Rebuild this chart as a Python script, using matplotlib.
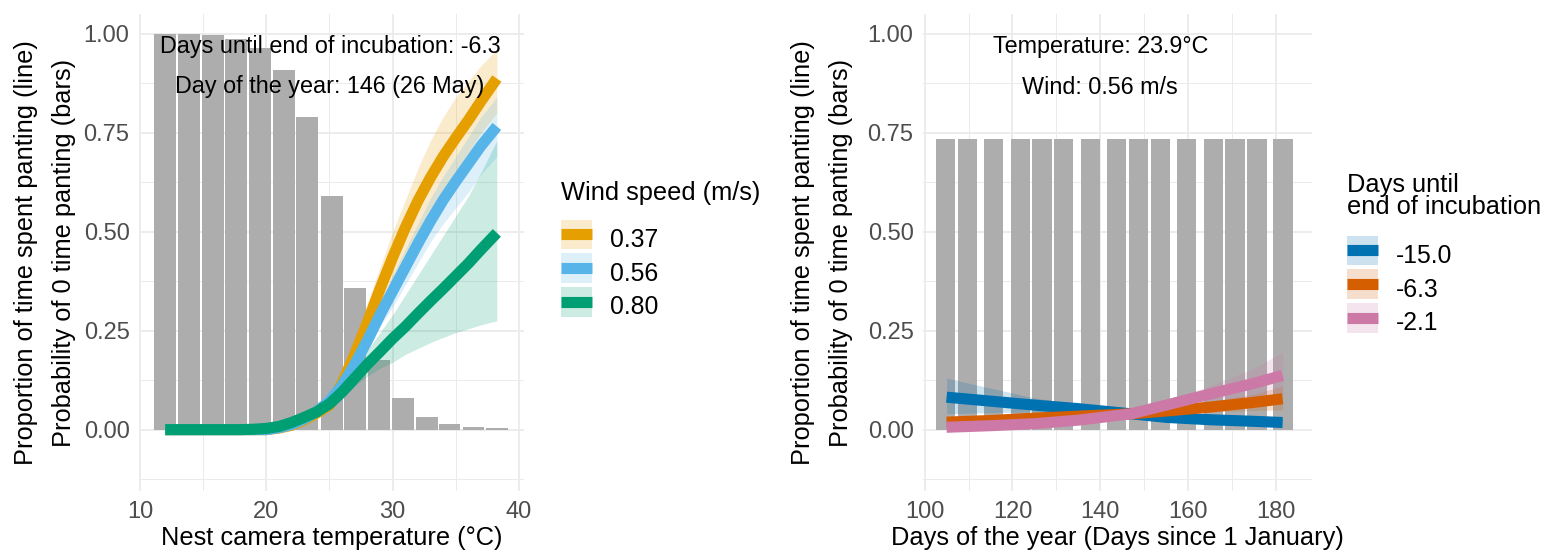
import numpy as np
import matplotlib.pyplot as plt
from matplotlib.patches import Patch, Rectangle
from matplotlib.lines import Line2D
from matplotlib.legend_handler import HandlerPatch

plt.rcParams['font.family'] = ['Liberation Sans', 'DejaVu Sans']

# ---- left panel data: temperature effect ----
temp_bins = [12.0, 13.9, 15.8, 17.6, 19.5, 21.4, 23.2, 25.2, 27.0, 28.9, 30.8, 32.7, 34.5, 36.4, 38.25]
temp_p0 = [1.0, 1.0, 0.997, 0.988, 0.963, 0.908, 0.791, 0.59, 0.358, 0.177, 0.079, 0.032, 0.013, 0.007, 0.004]

temp_x = [12, 14, 16, 18, 19, 20, 21, 22, 23, 24, 25, 26, 27, 28, 29, 30, 31, 32, 33, 34, 35, 36, 37, 38.25]
wind_labels = ['0.37', '0.56', '0.80']
wind_colors = ['#E69F00', '#56B4E9', '#009E73']
wind_fit = [
    [0, 0, 0, 0, 0, 0, 0.004, 0.011, 0.024, 0.042, 0.062, 0.118, 0.19, 0.27, 0.355, 0.435, 0.51, 0.578, 0.637, 0.69, 0.737, 0.782, 0.83, 0.887],
    [0, 0, 0, 0, 0, 0, 0.005, 0.013, 0.027, 0.046, 0.072, 0.112, 0.165, 0.225, 0.29, 0.35, 0.41, 0.47, 0.527, 0.58, 0.627, 0.672, 0.717, 0.766],
    [0, 0, 0, 0, 0.001, 0.003, 0.008, 0.018, 0.031, 0.045, 0.065, 0.095, 0.13, 0.165, 0.197, 0.23, 0.26, 0.293, 0.325, 0.356, 0.388, 0.42, 0.455, 0.497],
]
wind_lo = [
    [0, 0, 0, 0, 0, 0, 0.002, 0.007, 0.017, 0.032, 0.048, 0.095, 0.155, 0.225, 0.3, 0.37, 0.44, 0.5, 0.55, 0.6, 0.65, 0.7, 0.75, 0.8],
    [0, 0, 0, 0, 0, 0, 0.003, 0.009, 0.02, 0.036, 0.058, 0.095, 0.145, 0.2, 0.26, 0.31, 0.365, 0.42, 0.475, 0.52, 0.56, 0.6, 0.645, 0.69],
    [0, 0, 0, 0, 0, 0.001, 0.005, 0.013, 0.024, 0.036, 0.052, 0.08, 0.11, 0.135, 0.155, 0.17, 0.19, 0.205, 0.22, 0.233, 0.245, 0.255, 0.265, 0.275],
]
wind_hi = [
    [0, 0, 0, 0, 0, 0.001, 0.007, 0.016, 0.032, 0.055, 0.085, 0.15, 0.23, 0.32, 0.41, 0.5, 0.58, 0.66, 0.73, 0.79, 0.84, 0.88, 0.92, 0.96],
    [0, 0, 0, 0, 0, 0.001, 0.007, 0.017, 0.034, 0.057, 0.088, 0.13, 0.185, 0.25, 0.32, 0.39, 0.455, 0.52, 0.585, 0.64, 0.69, 0.74, 0.79, 0.84],
    [0, 0, 0, 0, 0.002, 0.005, 0.011, 0.023, 0.038, 0.055, 0.08, 0.115, 0.16, 0.2, 0.245, 0.29, 0.34, 0.39, 0.44, 0.49, 0.54, 0.59, 0.65, 0.73],
]

# ---- right panel data: day of year effect ----
day_bins = [104.7, 109.7, 115.7, 121.75, 126.7, 131.6, 137.7, 143.7, 148.7, 153.7, 159.7, 165.7, 170.7, 175.7, 181.6]
day_p0 = [0.734] * 15

day_x = [105, 115, 125, 135, 147, 155, 165, 175, 181.5]
incub_labels = ['-15.0', '-6.3', '-2.1']
incub_colors = ['#0072B2', '#D55E00', '#CC79A7']
incub_fit = [
    [0.082, 0.072, 0.062, 0.053, 0.04, 0.031, 0.025, 0.021, 0.018],
    [0.019, 0.023, 0.029, 0.034, 0.04, 0.047, 0.057, 0.069, 0.078],
    [0.006, 0.01, 0.015, 0.024, 0.04, 0.062, 0.09, 0.117, 0.137],
]
incub_lo = [
    [0.04, 0.043, 0.045, 0.042, 0.033, 0.022, 0.015, 0.011, 0.008],
    [0.012, 0.017, 0.024, 0.03, 0.035, 0.04, 0.045, 0.048, 0.05],
    [0.0, 0.004, 0.01, 0.019, 0.034, 0.052, 0.07, 0.082, 0.09],
]
incub_hi = [
    [0.13, 0.105, 0.08, 0.065, 0.047, 0.04, 0.035, 0.032, 0.03],
    [0.028, 0.03, 0.034, 0.038, 0.045, 0.055, 0.07, 0.09, 0.11],
    [0.015, 0.017, 0.02, 0.029, 0.046, 0.075, 0.11, 0.155, 0.196],
]

ylab = 'Proportion of time spent panting (line)\nProbability of 0 time panting (bars)'
bar_color = '#ADADAD'
grid_color = '#EBEBEB'


def style_axis(ax, xlim, xmajor, xminor):
    ax.set_xlim(xlim)
    ax.set_ylim(-0.155, 1.05)
    ax.set_xticks(xmajor)
    ax.set_xticks(xminor, minor=True)
    ax.set_yticks([0, 0.25, 0.5, 0.75, 1.0])
    ax.set_yticklabels(['0.00', '0.25', '0.50', '0.75', '1.00'])
    ax.set_yticks([-0.125, 0.125, 0.375, 0.625, 0.875], minor=True)
    ax.grid(which='major', color=grid_color, lw=1.3)
    ax.grid(which='minor', color=grid_color, lw=0.7)
    ax.set_axisbelow(True)
    for s in ax.spines.values():
        s.set_visible(False)
    ax.tick_params(which='both', length=0, labelsize=17, labelcolor='#4D4D4D', pad=7)
    ax.set_ylabel(ylab, fontsize=18.3, va='center', linespacing=1.75)


fig = plt.figure(figsize=(15.49, 5.5), dpi=100)
ax1 = fig.add_axes([139.3 / 1549, 59 / 550, 384.7 / 1549, 477 / 550])
ax2 = fig.add_axes([923.3 / 1549, 59 / 550, 388.7 / 1549, 477 / 550])

# left panel
ax1.bar(temp_bins, temp_p0, width=1.72, color=bar_color, zorder=1)
for i in range(3):
    ax1.fill_between(temp_x, wind_lo[i], wind_hi[i], color=wind_colors[i], alpha=0.2, lw=0, zorder=2)
for i in range(3):
    ax1.plot(temp_x, wind_fit[i], color=wind_colors[i], lw=8,
             solid_capstyle='butt', solid_joinstyle='round', zorder=3)
style_axis(ax1, (9.95, 40.4), [10, 20, 30, 40], [15, 25, 35])
ax1.set_xlabel('Nest camera temperature (°C)', fontsize=18.3, labelpad=2)
ax1.yaxis.set_label_coords(-0.245, 0.5)
ax1.text(25.04, 0.969, 'Days until end of incubation: -6.3', fontsize=16.8, ha='center', va='center', zorder=4)
ax1.text(25.04, 0.866, 'Day of the year: 146 (26 May)', fontsize=16.8, ha='center', va='center', zorder=4)

# right panel
ax2.bar(day_bins, day_p0, width=4.39, color=bar_color, zorder=1)
for i in range(3):
    ax2.fill_between(day_x, incub_lo[i], incub_hi[i], color=incub_colors[i], alpha=0.2, lw=0, zorder=2)
for i in range(3):
    ax2.plot(day_x, incub_fit[i], color=incub_colors[i], lw=8,
             solid_capstyle='butt', solid_joinstyle='round', zorder=3)
style_axis(ax2, (99.7, 188.2), [100, 120, 140, 160, 180], [110, 130, 150, 170])
ax2.set_xlabel('Days of the year (Days since 1 January)', fontsize=18.3, labelpad=2)
ax2.yaxis.set_label_coords(-0.26, 0.5)
ax2.text(140, 0.968, 'Temperature: 23.9°C', fontsize=16.8, ha='center', va='center', zorder=4)
ax2.text(139.8, 0.865, 'Wind: 0.56 m/s', fontsize=16.8, ha='center', va='center', zorder=4)


def key_handles(colors):
    return [(Patch(facecolor=c, alpha=0.2, edgecolor='none'),
             Line2D([0], [0], color=c, lw=8, solid_capstyle='butt')) for c in colors]


def centered_key(legend, orig_handle, xdescent, ydescent, width, height, fontsize):
    # ribbon square centred on the legend line, a little shorter than the row
    return Rectangle((-xdescent, -ydescent / 2 + 1.5), width, height - 3)


# legends: titles as separate text so the gap to the keys matches
leg_kw = dict(loc='upper left', frameon=False, fontsize=17.8,
              handlelength=1.28, handleheight=1.72, labelspacing=0.0,
              handletextpad=0.72, borderpad=0, borderaxespad=0,
              handler_map={Patch: HandlerPatch(patch_func=centered_key)})
fig.text(560.7 / 1549, 1 - 193 / 550, 'Wind speed (m/s)', fontsize=18.3, ha='left', va='center')
fig.legend(key_handles(wind_colors), wind_labels,
           bbox_to_anchor=(560.7 / 1549, 1 - 222 / 550), **leg_kw)
fig.text(1346.7 / 1549, 1 - 196 / 550, 'Days until\nend of incubation', fontsize=18.3,
         ha='left', va='center', linespacing=0.93)
fig.legend(key_handles(incub_colors), incub_labels,
           bbox_to_anchor=(1346.7 / 1549, 1 - 238 / 550), **leg_kw)

fig.savefig('out.png', dpi=100)
